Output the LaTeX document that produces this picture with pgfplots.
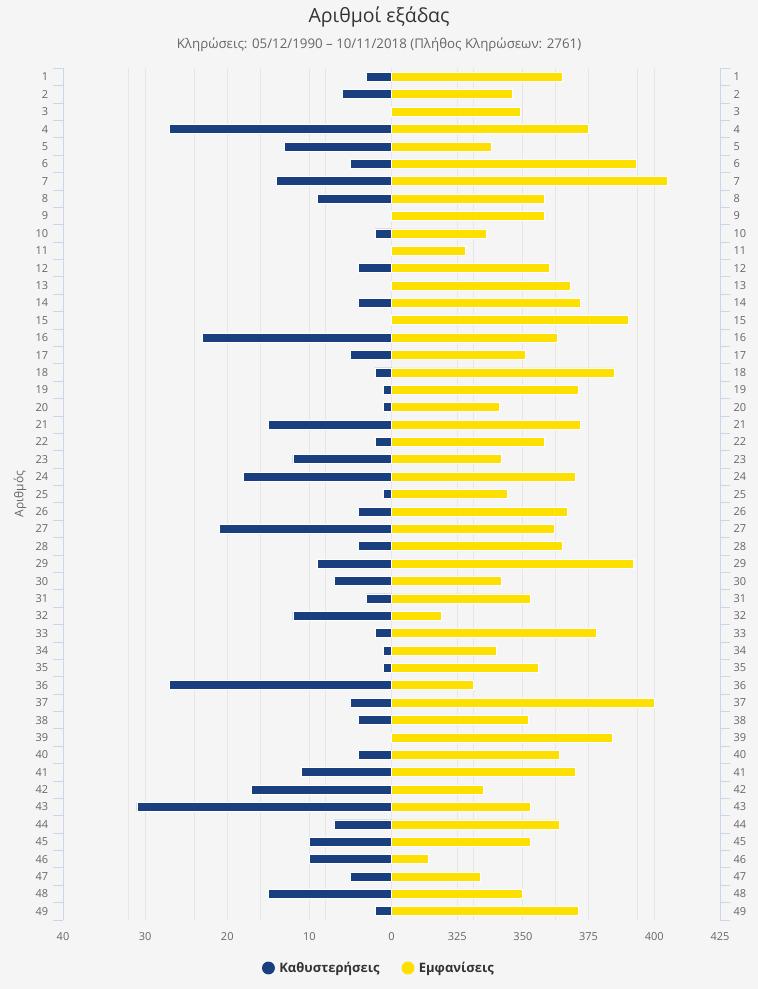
\documentclass[border=0pt]{standalone}
\usepackage{pgfplots}
\pgfplotsset{compat=1.18}
\usepackage{pgfplotstable}
\usepackage{fontspec}
\setmainfont{Open Sans}

\definecolor{bgcol}{HTML}{F5F5F5}
\definecolor{gridcol}{HTML}{E6E6E6}
\definecolor{axiscol}{HTML}{CCD6EB}
\definecolor{labcol}{HTML}{666666}
\definecolor{titlecol}{HTML}{333333}
\definecolor{navy}{HTML}{1A3F7F}
\definecolor{gold}{HTML}{FDE000}

% n = number, d = delays (left), v = appearances (right, axis starts at 300)
\pgfplotstableread{
n d v
1 3 365
2 6 346
3 0 349
4 27 375
5 13 338
6 5 393
7 14 405
8 9 358
9 0 358
10 2 336
11 0 328
12 4 360
13 0 368
14 4 372
15 0 390
16 23 363
17 5 351
18 2 385
19 1 371
20 1 341
21 15 372
22 2 358
23 12 342
24 18 370
25 1 344
26 4 367
27 21 362
28 4 365
29 9 392
30 7 342
31 3 353
32 12 319
33 2 378
34 1 340
35 1 356
36 27 331
37 5 400
38 4 352
39 0 384
40 4 364
41 11 370
42 17 335
43 31 353
44 7 364
45 10 353
46 10 314
47 5 334
48 15 350
49 2 371
}\lotto

\begin{document}
\begin{tikzpicture}
\useasboundingbox[fill=bgcol] (-63pt,-69pt) rectangle (695pt,920pt);

\begin{axis}[
    at={(0,0)}, anchor=south west,
    scale only axis, width=657pt, height=851.7pt,
    xbar, bar width=9pt,
    xmin=-40, xmax=40, ymin=0.5, ymax=49.5, y dir=reverse,
    xtick={-40,-32,-30,-24,-20,-16,-10,-8,0,8,10,16,20,24,30,32,40},
    xticklabels={40,,30,,20,,10,,0,325,,350,,375,,400,425},
    xmajorgrids, major grid style={gridcol, line width=0.8pt},
    major x tick style={draw=none},
    ytick={1,...,49}, major y tick style={draw=none},
    minor ytick={0.5,1.5,...,49.5},
    minor y tick style={axiscol, line width=0.8pt},
    minor tick length=10pt, tick align=outside, ytick pos=both,
    yticklabel pos=left,
    separate axis lines,
    x axis line style={draw=none},
    y axis line style={draw=axiscol, line width=0.8pt},
    tick label style={font=\fontsize{11}{13}\selectfont, color=labcol},
    yticklabel style={xshift=-7pt},
    xticklabel style={yshift=-5pt},
    /pgf/number format/assume math mode=true,
    ylabel={Αριθμός},
    every axis y label/.style={at={([xshift=-43pt]axis description cs:0,0.5)}, rotate=90, anchor=center, font=\fontsize{12}{14}\selectfont, color=labcol},
    legend style={at={([xshift=-12.5pt,yshift=-48pt]axis description cs:0.5,0)}, anchor=center,
        draw=none, fill=none, font=\bfseries\fontsize{13}{15}\selectfont, text=titlecol,
        legend columns=2, /tikz/every even column/.append style={column sep=20pt}},
]
\addplot[fill=navy, draw=white, line width=0.8pt, /pgf/bar shift=0pt,
    legend image code/.code={\fill[navy] (0pt,0pt) circle (6pt); \path (8.5pt,0pt);}]
    table[x expr=-\thisrow{d}, y=n] {\lotto};
\addplot[fill=gold, draw=white, line width=0.8pt, /pgf/bar shift=0pt,
    legend image code/.code={\fill[gold] (0pt,0pt) circle (6pt); \path (8.5pt,0pt);}]
    table[x expr=(\thisrow{v}-300)*0.32, y=n] {\lotto};
\legend{Καθυστερήσεις, Εμφανίσεις}
\end{axis}

% right-hand number labels
\begin{axis}[
    at={(0,0)}, anchor=south west,
    scale only axis, width=657pt, height=851.7pt,
    xmin=-40, xmax=40, ymin=0.5, ymax=49.5, y dir=reverse,
    hide x axis,
    y axis line style={draw=none},
    ytick={1,...,49}, major tick length=0pt,
    yticklabel pos=right,
    yticklabel style={xshift=10pt, font=\fontsize{11}{13}\selectfont, color=labcol},
    /pgf/number format/assume math mode=true,
]
\end{axis}

\node[font=\fontsize{19.5}{23}\selectfont, text=titlecol] at (316pt,903pt) {Αριθμοί εξάδας};
\node[font=\fontsize{13.3}{16}\selectfont, text=labcol] at (316pt,875pt) {Κληρώσεις: 05/12/1990 – 10/11/2018 (Πλήθος Κληρώσεων: 2761)};
\end{tikzpicture}
\end{document}
